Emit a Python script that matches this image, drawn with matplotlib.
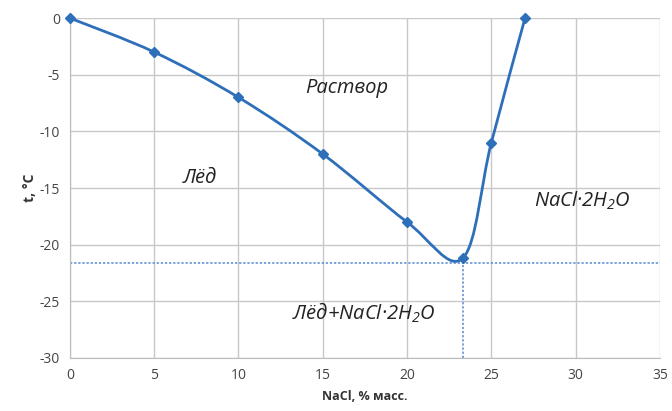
import numpy as np
import matplotlib.pyplot as plt
from matplotlib.path import Path
from matplotlib.patches import PathPatch

# liquidus data
nacl = [0, 5, 10, 15, 20, 23.3, 25, 27]
temp = [0, -3, -7, -12, -18, -21.2, -11, 0]

eutectic_x = 23.3
eutectic_t = -21.6

xticks = [0, 5, 10, 15, 20, 25, 30, 35]
yticks = [0, -5, -10, -15, -20, -25, -30]

blue = '#2e6fba'
grid_col = '#c8c8c8'


def smooth_path(xs, ys):
    # Catmull-Rom style cubic Bezier through the points (like Excel smoothed line)
    pts = np.column_stack([xs, ys]).astype(float)
    n = len(pts)
    verts = [pts[0]]
    codes = [Path.MOVETO]
    for i in range(n - 1):
        p0 = pts[i - 1] if i > 0 else pts[i]
        p1 = pts[i]
        p2 = pts[i + 1]
        p3 = pts[i + 2] if i + 2 < n else pts[i + 1]
        c1 = p1 + (p2 - p0) / 6.0
        c2 = p2 - (p3 - p1) / 6.0
        verts += [c1, c2, p2]
        codes += [Path.CURVE4] * 3
    return Path(verts, codes)


plt.rcParams['font.family'] = ['Open Sans', 'DejaVu Sans']
plt.rcParams['axes.unicode_minus'] = False
plt.rcParams['mathtext.fontset'] = 'custom'
plt.rcParams['mathtext.it'] = 'Open Sans:italic'
plt.rcParams['mathtext.rm'] = 'Open Sans:italic'

fig = plt.figure(figsize=(6.72, 4.11), dpi=100)
ax = fig.add_axes([0.104, 0.129, 0.878, 0.827])

ax.set_xlim(0, 35)
ax.set_ylim(-30, 0)
ax.set_xticks(xticks)
ax.set_yticks(yticks)
ax.grid(True, color=grid_col, linewidth=1.0)
ax.set_axisbelow(True)
for s in ['top', 'right']:
    ax.spines[s].set_visible(False)
for s in ['left', 'bottom']:
    ax.spines[s].set_color('#bdbdbd')
ax.tick_params(length=0, labelsize=10, colors='#444444', pad=7)

# eutectic guide lines
ax.plot([0, 35], [eutectic_t, eutectic_t], linestyle=(0, (1.5, 1.2)), color='#5a8ad0',
        linewidth=1.1, clip_on=False, zorder=2)
ax.plot([eutectic_x, eutectic_x], [-30, eutectic_t], linestyle=(0, (1.5, 1.2)), color='#5a8ad0',
        linewidth=1.1, zorder=2)

ax.add_patch(PathPatch(smooth_path(nacl, temp), facecolor='none', edgecolor=blue,
                       linewidth=2.0, zorder=3, clip_on=False))
ax.plot(nacl, temp, linestyle='none', marker='D', markersize=5.5, color=blue,
        zorder=4, clip_on=False)

lab = dict(fontsize=14.5, style='italic', ha='center', va='center', color='#222222')
ax.text(16.4, -6.2, 'Раствор', **lab)
ax.text(7.7, -14.1, 'Лёд', **lab)
ax.text(30.4, -16.1, 'NaCl·2H$_2$O', **lab)
ax.text(17.4, -26.0, 'Лёд+NaCl·2H$_2$O', **lab)

ax.set_xlabel('NaCl, % масс.', fontsize=9, fontweight='bold', color='#333333', labelpad=5)
ax.set_ylabel('t, °C', fontsize=10, fontweight='bold', color='#333333', labelpad=2)

fig.savefig('out.png', dpi=100)
